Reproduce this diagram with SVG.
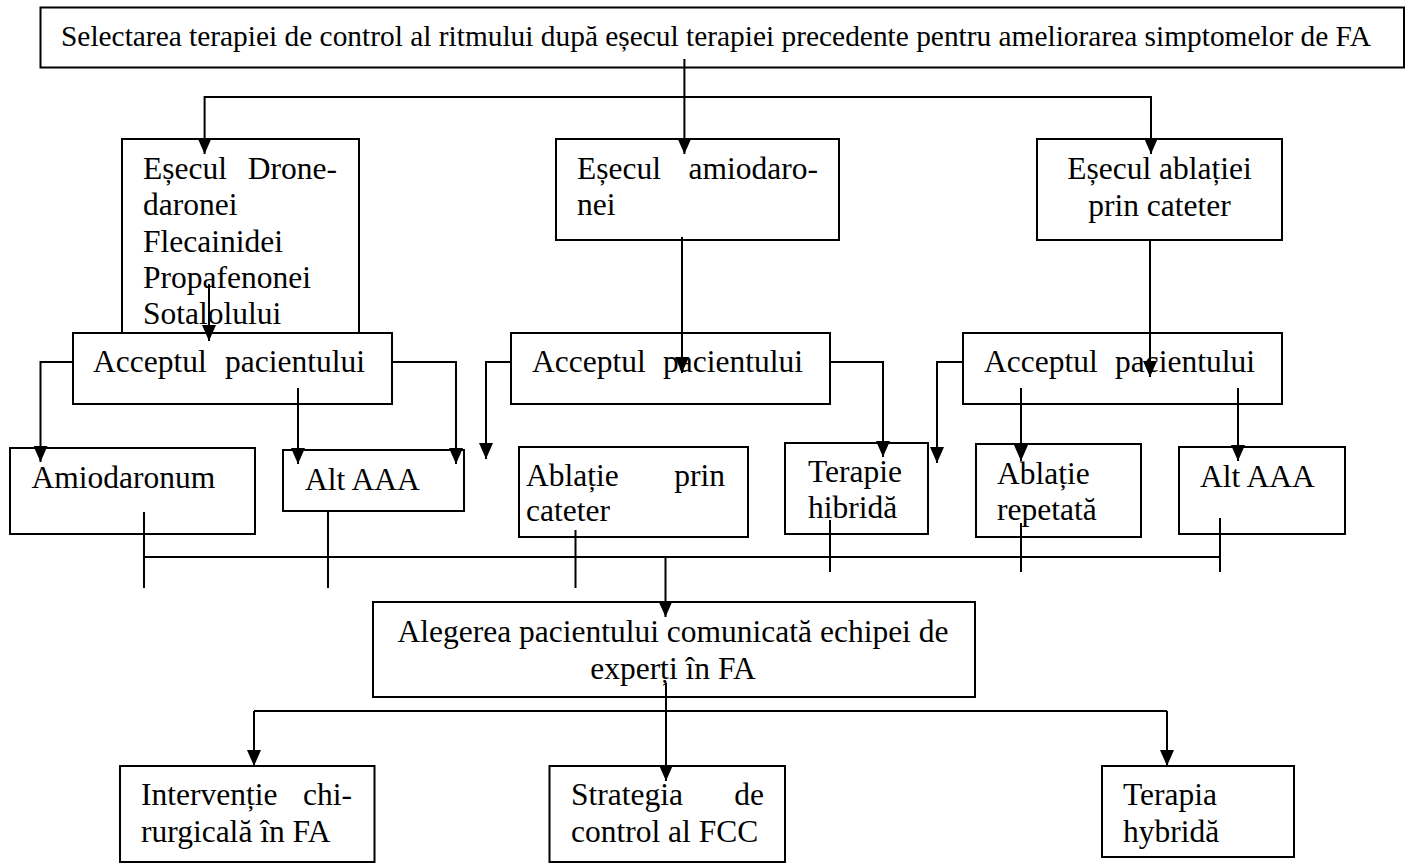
<svg xmlns="http://www.w3.org/2000/svg" width="1411" height="864" viewBox="0 0 1411 864">
<style>
.b{fill:#fff;stroke:#000;stroke-width:2}
.t{font-family:"Liberation Serif","Times New Roman",serif;font-size:31.5px;fill:#000}
.c path{fill:none;stroke:#000;stroke-width:2}
</style>
<defs>
<marker id="ah" markerUnits="userSpaceOnUse" markerWidth="16" markerHeight="14" refX="16" refY="7" orient="auto"><path d="M0,0 L16,7 L0,14 z" fill="#000"/></marker>
</defs>
<rect width="1411" height="864" fill="#fff"/>
<g id="n-top"><rect class="b" x="40.5" y="7.5" width="1363.5" height="60"/><text class="t" x="61" y="46" style="font-size:29.3px" textLength="1310" lengthAdjust="spacingAndGlyphs">Selectarea terapiei de control al ritmului după eșecul terapiei precedente pentru ameliorarea simptomelor de FA</text></g>
<g id="n-drone"><rect class="b" x="122" y="139" width="237" height="200"/><text class="t" x="143" y="179">Eșecul</text><text class="t" x="337" y="179" text-anchor="end">Drone-</text><text class="t" x="143" y="215.3">daronei</text><text class="t" x="143" y="251.5">Flecainidei</text><text class="t" x="143" y="287.7">Propafenonei</text><text class="t" x="143" y="324">Sotalolului</text></g>
<g id="n-amio"><rect class="b" x="556" y="139" width="283" height="101"/><text class="t" x="577" y="179">Eșecul</text><text class="t" x="818" y="179" text-anchor="end">amiodaro-</text><text class="t" x="577" y="215">nei</text></g>
<g id="n-abl"><rect class="b" x="1037" y="139" width="245" height="101"/><text class="t" x="1159.5" y="179" text-anchor="middle">Eșecul ablației</text><text class="t" x="1159.5" y="216" text-anchor="middle">prin cateter</text></g>
<g id="n-acc1"><rect class="b" x="73" y="333" width="319" height="71"/><text class="t" x="93" y="372">Acceptul</text><text class="t" x="365" y="372" text-anchor="end">pacientului</text></g>
<g id="n-acc2"><rect class="b" x="511" y="333" width="319" height="71"/><text class="t" x="532" y="372">Acceptul</text><text class="t" x="803" y="372" text-anchor="end">pacientului</text></g>
<g id="n-acc3"><rect class="b" x="963" y="333" width="319" height="71"/><text class="t" x="984" y="372">Acceptul</text><text class="t" x="1255" y="372" text-anchor="end">pacientului</text></g>
<g id="n-amiodaronum"><rect class="b" x="10" y="448" width="245" height="86"/><text class="t" x="31.5" y="488">Amiodaronum</text></g>
<g id="n-alt1"><rect class="b" x="283" y="450" width="181" height="61"/><text class="t" x="305" y="490">Alt AAA</text></g>
<g id="n-ablcat"><rect class="b" x="519" y="447" width="229" height="90"/><text class="t" x="526" y="486">Ablație</text><text class="t" x="725" y="486" text-anchor="end">prin</text><text class="t" x="526" y="521">cateter</text></g>
<g id="n-hib"><rect class="b" x="785" y="443" width="143" height="91"/><text class="t" x="808" y="482">Terapie</text><text class="t" x="808" y="518">hibridă</text></g>
<g id="n-rep"><rect class="b" x="976" y="444" width="165" height="93"/><text class="t" x="997" y="484">Ablație</text><text class="t" x="997" y="520">repetată</text></g>
<g id="n-alt2"><rect class="b" x="1179" y="447" width="166" height="87"/><text class="t" x="1200" y="487">Alt AAA</text></g>
<g id="n-aleg"><rect class="b" x="373" y="602" width="602" height="95"/><text class="t" x="673" y="642" text-anchor="middle">Alegerea pacientului comunicată echipei de</text><text class="t" x="673" y="679" text-anchor="middle">experți în FA</text></g>
<g id="n-interv"><rect class="b" x="120" y="766" width="254.5" height="96"/><text class="t" x="141" y="805">Intervenție</text><text class="t" x="352" y="805" text-anchor="end">chi-</text><text class="t" x="141" y="842">rurgicală în FA</text></g>
<g id="n-strat"><rect class="b" x="549.5" y="766" width="235.5" height="96"/><text class="t" x="571" y="805">Strategia</text><text class="t" x="764" y="805" text-anchor="end">de</text><text class="t" x="571" y="842">control al FCC</text></g>
<g id="n-hyb"><rect class="b" x="1102" y="766" width="192" height="91"/><text class="t" x="1123" y="805">Terapia</text><text class="t" x="1123" y="842">hybridă</text></g>
<g id="connectors" class="c">
<path d="M684.4,59 V154" marker-end="url(#ah)"/>
<path d="M684.4,97 H204.6 V154" marker-end="url(#ah)"/>
<path d="M684.4,97 H1151 V154" marker-end="url(#ah)"/>
<path d="M209,284 V341" marker-end="url(#ah)"/>
<path d="M682,237 V373" marker-end="url(#ah)"/>
<path d="M1150,240 V377" marker-end="url(#ah)"/>
<path d="M73,362 H40.5 V462" marker-end="url(#ah)"/>
<path d="M392,362 H456 V464" marker-end="url(#ah)"/>
<path d="M298,388 V464" marker-end="url(#ah)"/>
<path d="M511,362 H486 V459" marker-end="url(#ah)"/>
<path d="M830,362 H883 V457" marker-end="url(#ah)"/>
<path d="M963,362 H937 V463" marker-end="url(#ah)"/>
<path d="M1021,388 V461" marker-end="url(#ah)"/>
<path d="M1238,388 V461" marker-end="url(#ah)"/>
<path d="M144,512 V588 M328,511 V588 M575.5,530 V588 M830,520 V572 M1021,523 V572 M1220,518 V572 M144,557 H1220"/>
<path d="M665.5,557 V617" marker-end="url(#ah)"/>
<path d="M666,683 V781" marker-end="url(#ah)"/>
<path d="M254,711 H1167"/>
<path d="M254,711 V766" marker-end="url(#ah)"/>
<path d="M1167,711 V766" marker-end="url(#ah)"/>
</g>
</svg>
